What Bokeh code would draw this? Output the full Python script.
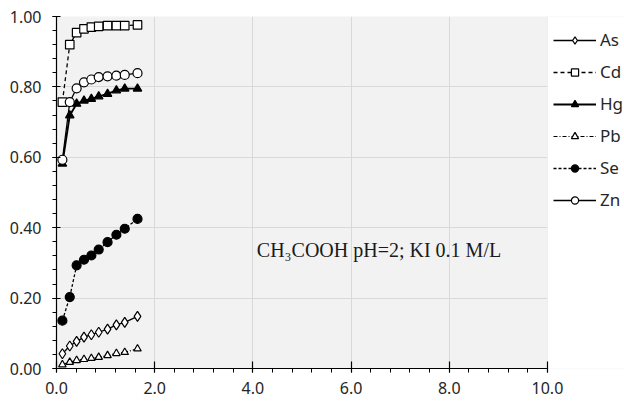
from bokeh.plotting import figure
from bokeh.models import (Legend, LegendItem, SingleIntervalTicker,
                          NumeralTickFormatter, Range1d, Label, BoxAnnotation)
from bokeh.embed import file_html
from bokeh.resources import INLINE

# ---- data ----
time_h = [0.12, 0.27, 0.41, 0.56, 0.71, 0.86, 1.04, 1.22, 1.39, 1.65]
As = [0.042, 0.064, 0.077, 0.089, 0.096, 0.103, 0.112, 0.124, 0.131, 0.148]
Cd = [0.757, 0.920, 0.954, 0.965, 0.970, 0.972, 0.974, 0.974, 0.974, 0.976]
Hg = [0.582, 0.719, 0.752, 0.761, 0.766, 0.773, 0.780, 0.790, 0.795, 0.795]
Pb = [0.011, 0.018, 0.023, 0.026, 0.029, 0.032, 0.037, 0.043, 0.046, 0.056]
Se = [0.136, 0.203, 0.293, 0.309, 0.321, 0.338, 0.359, 0.380, 0.397, 0.425]
Zn = [0.593, 0.757, 0.796, 0.813, 0.821, 0.828, 0.830, 0.832, 0.834, 0.839]
annotation = "CH\u2083COOH pH=2; KI 0.1 M/L"

X_MAX = 10
# the frame runs on past x = 10 to leave room for the legend at the right
p = figure(width=624, height=403, x_range=Range1d(0, 11.57), y_range=Range1d(0, 1),
           output_backend="svg", toolbar_location=None,
           min_border_left=56, min_border_right=0, min_border_top=16,
           min_border_bottom=35, background_fill_color="#f2f2f2",
           border_fill_color="white", outline_line_color=None)

p.xaxis.ticker = SingleIntervalTicker(interval=2, num_minor_ticks=5)
p.yaxis.ticker = SingleIntervalTicker(interval=0.2, num_minor_ticks=5)
p.xaxis.bounds = (0, X_MAX)
p.xaxis.formatter = NumeralTickFormatter(format="0.0")
p.yaxis.formatter = NumeralTickFormatter(format="0.00")
p.xgrid.ticker = p.xaxis.ticker
p.ygrid.ticker = p.yaxis.ticker
p.xgrid.grid_line_color = "#d9d9d9"
p.ygrid.grid_line_color = "#d9d9d9"

for ax in (p.xaxis, p.yaxis):
    ax.axis_line_color = "black"
    ax.axis_line_width = 1.2
    ax.major_tick_line_color = "black"
    ax.major_tick_line_width = 1.2
    ax.minor_tick_line_color = "black"
    ax.minor_tick_in = 0
    ax.minor_tick_out = 4
    ax.major_tick_out = 4
    ax.major_label_text_font = "Noto Sans"
    ax.major_label_text_font_size = "16px"
    ax.major_label_text_color = "#262626"
p.xaxis.major_tick_in = 7
p.yaxis.major_tick_in = 4
p.xaxis.major_label_standoff = 9
p.yaxis.major_label_standoff = 11

# white cover for the legend strip to the right of x = 10
p.add_layout(BoxAnnotation(left=X_MAX, fill_color="white", fill_alpha=1,
                           line_alpha=0, level="underlay"))

series = [
    ("As", As, "solid", 1.3, dict(marker="diamond", size=10, fill_color="white")),
    ("Cd", Cd, "4 3", 1.3, dict(marker="square", size=8.5, fill_color="white")),
    ("Hg", Hg, "solid", 1.9, dict(marker="triangle", size=8.5, fill_color="black")),
    ("Pb", Pb, "4 2 1 2", 1.2, dict(marker="triangle", size=7.5, fill_color="white")),
    ("Se", Se, "3 2", 1.3, dict(marker="circle", size=9, fill_color="black")),
    ("Zn", Zn, "solid", 1.3, dict(marker="circle", size=9, fill_color="white")),
]

items = []
for name, ys, dash, lw, mk in series:
    lr = p.line(time_h, ys, line_color="black", line_width=lw, line_dash=dash)
    sr = p.scatter(time_h, ys, line_color="black", line_width=1.2, **mk)
    items.append(LegendItem(label=name, renderers=[lr, sr]))

legend = Legend(items=items, location=(491, 151), padding=6, margin=0,
                glyph_width=43, glyph_height=18, label_height=22, spacing=9,
                label_standoff=4, label_text_font="Noto Sans",
                label_text_font_size="17px", label_text_color="#262626",
                background_fill_alpha=0, border_line_alpha=0)
p.add_layout(legend, "center")

p.add_layout(Label(x=4.08, y=0.338, text=annotation, text_font="Liberation Serif",
                   text_font_size="20px", text_baseline="alphabetic",
                   text_color="#1a1a1a"))

open("out.html", "w").write(file_html(p, INLINE))
